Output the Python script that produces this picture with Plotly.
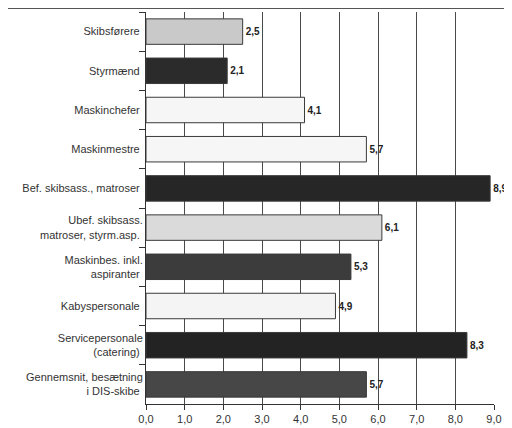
import plotly.graph_objects as go

# Données (ordre de haut en bas)
categories = [
    "Skibsførere",
    "Styrmænd",
    "Maskinchefer",
    "Maskinmestre",
    "Bef. skibsass., matroser",
    "Ubef. skibsass.<br>matroser, styrm.asp.",
    "Maskinbes. inkl.<br>aspiranter",
    "Kabyspersonale",
    "Servicepersonale<br>(catering)",
    "Gennemsnit, besætning<br>i DIS-skibe",
]
values = [2.5, 2.1, 4.1, 5.7, 8.9, 6.1, 5.3, 4.9, 8.3, 5.7]
bar_colors = [
    "#c9c9c9", "#2b2b2b", "#f6f6f6", "#f6f6f6", "#262626",
    "#dadada", "#3c3c3c", "#f4f4f4", "#232323", "#474747",
]
x_ticks = [0, 1, 2, 3, 4, 5, 6, 7, 8, 9]

fig = go.Figure()
fig.add_trace(
    go.Bar(
        x=values,
        y=categories,
        orientation="h",
        marker=dict(color=bar_colors, line=dict(color="#3a3a3a", width=1)),
        texttemplate="<b>%{x:.1f}</b>",
        textposition="outside",
        textfont=dict(family="Liberation Sans, Arial", size=10, color="#222222"),
        cliponaxis=False,
        width=0.65,
    )
)

# --- cadre extérieur (bords gauche et haut visibles) ---
fig.add_shape(
    type="rect", xref="paper", yref="paper",
    x0=-0.3986, x1=1.2, y0=-0.3, y1=1.0089,
    line=dict(color="#555555", width=1),
)

# la page html ajoute 8 px de marge autour du graphique
fig.update_layout(
    width=512, height=428,
    margin=dict(l=138, r=26, t=4, b=32, autoexpand=False),
    paper_bgcolor="white",
    plot_bgcolor="white",
    separators=", ",
    showlegend=False,
    uniformtext=dict(minsize=10, mode="show"),
    font=dict(family="Liberation Sans, Arial", size=11, color="#333333"),
    xaxis=dict(
        range=[0, 9],
        tickvals=x_ticks,
        tickformat=".1f",
        showgrid=True,
        gridcolor="#4a4a4a",
        gridwidth=1,
        showline=True,
        linecolor="#333333",
        ticks="outside",
        ticklen=5,
        tickcolor="#333333",
        zeroline=False,
        automargin=False,
        tickfont=dict(size=11, color="#333333"),
    ),
    yaxis=dict(
        autorange="reversed",
        showline=True,
        linecolor="#333333",
        ticks="outside",
        tickson="boundaries",
        ticklen=6,
        tickcolor="#333333",
        showgrid=False,
        automargin=False,
        ticksuffix=" ",
        tickfont=dict(size=11, color="#333333"),
    ),
)

fig.write_html("out.html")
